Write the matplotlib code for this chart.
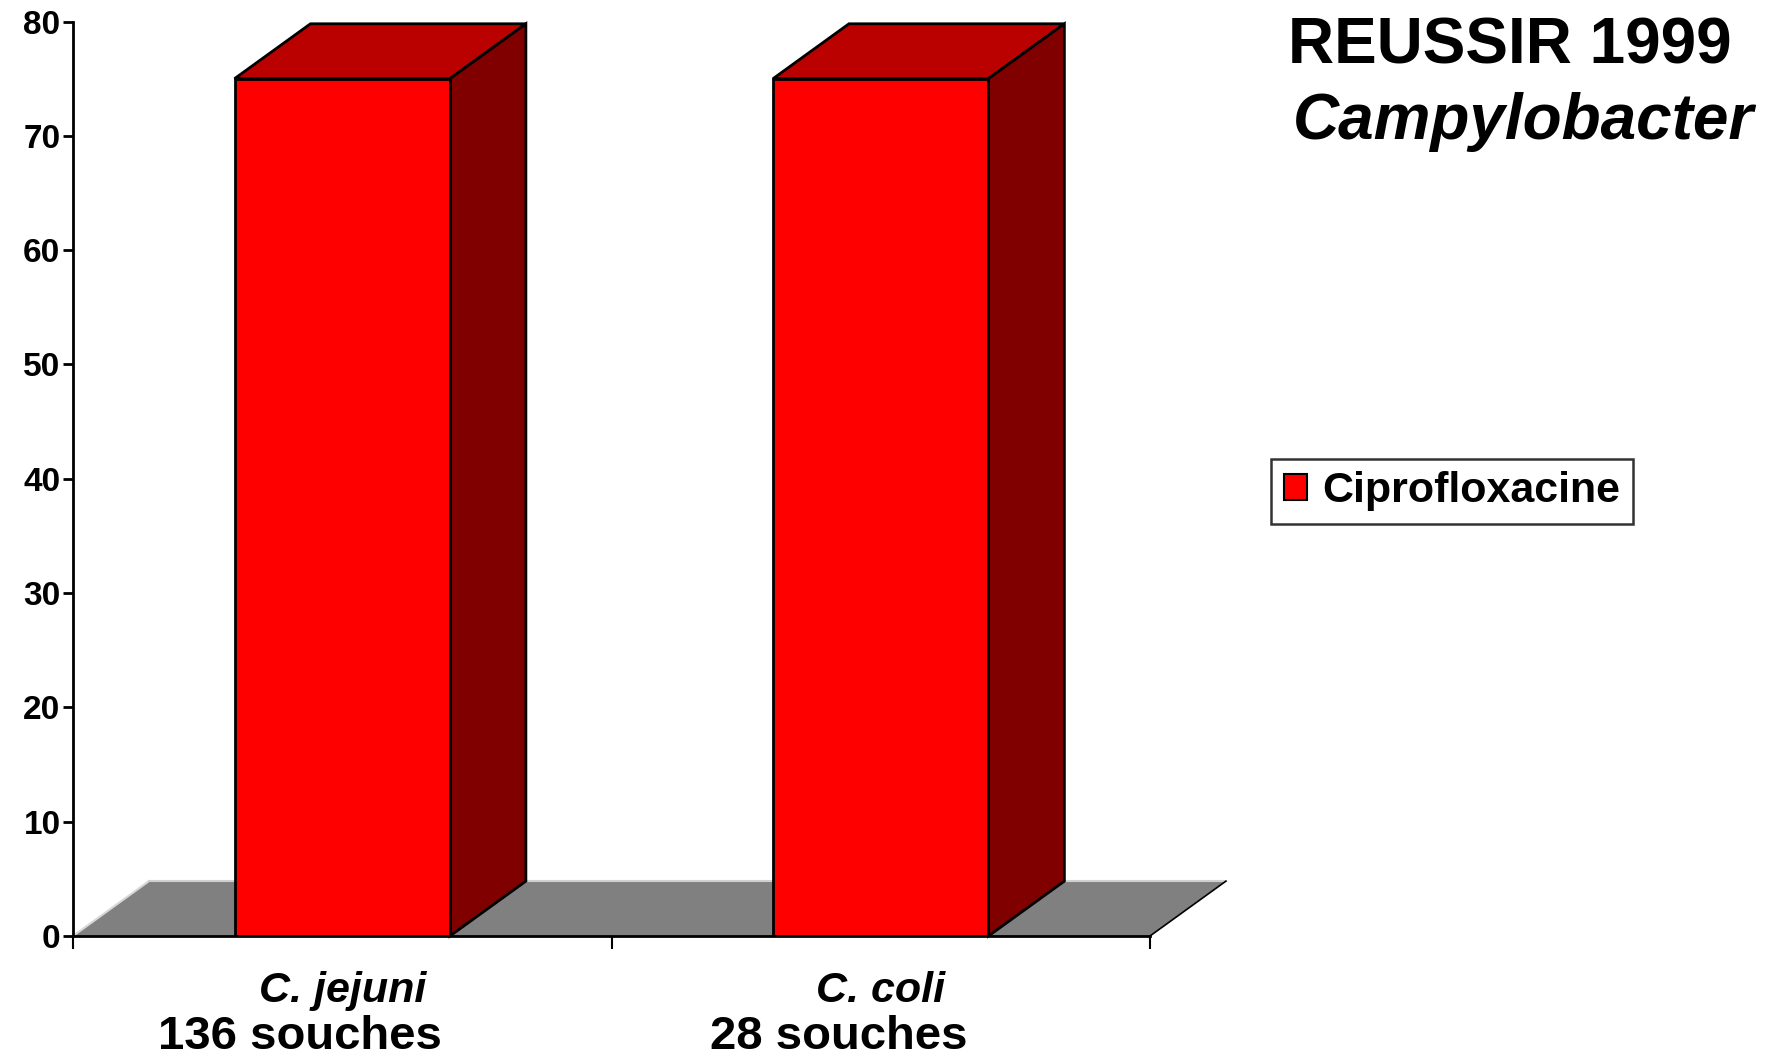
import matplotlib
matplotlib.use("Agg")
import matplotlib.pyplot as plt
from matplotlib.patches import Polygon

plt.rcParams['font.family'] = ['Liberation Sans', 'DejaVu Sans']

# data
species = ["C. jejuni", "C. coli"]
strains = ["136 souches", "28 souches"]
cipro = [75, 75]
series_name = "Ciprofloxacine"
yticks = [0, 10, 20, 30, 40, 50, 60, 70, 80]

W, H = 1771, 1058
fig = plt.figure(figsize=(W / 100, H / 100), dpi=100)
ax = fig.add_axes([73 / W, 122 / H, 1077 / W, 914.5 / H])
ax.set_xlim(0, len(species))
ax.set_ylim(0, 80)

front = "#ff0000"
top = "#bb0000"
side = "#800000"
floor = "#808080"
dx, dy = 0.141, 4.8   # depth offset of the 3d look, in data units
bw = 0.40

# floor
n = len(species)
ax.add_patch(Polygon([(0, 0), (n, 0), (n + dx, dy), (dx, dy)], closed=True,
                     facecolor=floor, edgecolor="none", clip_on=False, zorder=1))
ax.plot([dx, 0], [dy, 0], color="#d8d8d8", lw=1.5, clip_on=False, zorder=1.2)
ax.plot([dx, n + dx], [dy, dy], color="#d0d0d0", lw=1.5, clip_on=False, zorder=1.2)
ax.plot([n, n + dx], [0, dy], color="black", lw=1.2, clip_on=False, zorder=1.2)

xs = [i + 0.5 for i in range(n)]
bars = ax.bar(xs, cipro, width=bw, color=front, edgecolor="black",
              linewidth=2, zorder=3, label=series_name)
for b in bars:
    x0, x1, h = b.get_x(), b.get_x() + b.get_width(), b.get_height()
    ax.add_patch(Polygon([(x0, h), (x1, h), (x1 + dx, h + dy), (x0 + dx, h + dy)],
                         closed=True, facecolor=top, edgecolor="black", lw=2,
                         clip_on=False, zorder=2.5))
    ax.add_patch(Polygon([(x1, 0), (x1 + dx, dy), (x1 + dx, h + dy), (x1, h)],
                         closed=True, facecolor=side, edgecolor="black", lw=2,
                         clip_on=False, zorder=2.5))

for s in ["top", "right"]:
    ax.spines[s].set_visible(False)
for s in ["left", "bottom"]:
    ax.spines[s].set_linewidth(2)
    ax.spines[s].set_zorder(4)

ax.set_yticks(yticks)
ax.set_yticklabels([str(t) for t in yticks], fontsize=24, fontweight="bold")
ax.tick_params(axis="y", direction="out", length=7, width=2, pad=2)
ax.set_xticks(range(n + 1))
ax.set_xticklabels([])
ax.tick_params(axis="x", direction="out", length=9, width=1.5)

for x, sp, st in zip(xs, species, strains):
    ax.annotate(sp, (x, 0), xytext=(0, -55), textcoords="offset pixels",
                ha="center", va="center", fontsize=31, fontweight="bold",
                fontstyle="italic", annotation_clip=False)
    ax.annotate(st, (x, 0), xytext=(-42, -101), textcoords="offset pixels",
                ha="center", va="center", fontsize=34, fontweight="bold",
                annotation_clip=False)

fig.text(1510 / W, 1 - 47 / H, "REUSSIR 1999", ha="center", va="center",
         fontsize=46, fontweight="bold")
fig.text(1523 / W, 1 - 122 / H, "Campylobacter", ha="center", va="center",
         fontsize=46, fontweight="bold", fontstyle="italic")

leg = fig.legend(handles=[bars], labels=[series_name], loc="center",
                 bbox_to_anchor=(1452 / W, 1 - 491.5 / H), fancybox=False,
                 prop={"size": 31, "weight": "bold"}, handlelength=0.55,
                 handleheight=0.55, handletextpad=0.35, borderpad=0.3,
                 borderaxespad=0)
leg.get_frame().set_edgecolor("black")
leg.get_frame().set_linewidth(1.8)
for p in leg.get_patches():
    p.set_linewidth(1.5)

fig.savefig("out.png", dpi=100)
